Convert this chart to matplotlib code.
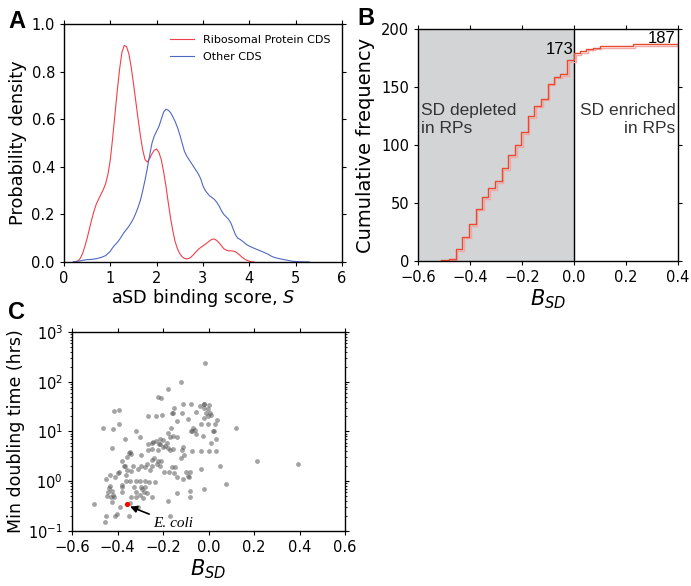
import numpy as np
import matplotlib
matplotlib.use("Agg")
import matplotlib.pyplot as plt
import matplotlib.patheffects as pe

# ---- Panel A: density curves
s_rp = [0.2, 0.3, 0.35, 0.4, 0.45, 0.5, 0.55, 0.6, 0.65, 0.7, 0.75, 0.8, 0.85, 0.9, 0.95,
        1.0, 1.05, 1.1, 1.15, 1.2, 1.25, 1.3, 1.35, 1.4, 1.45, 1.5, 1.55, 1.6, 1.65, 1.7,
        1.75, 1.8, 1.85, 1.9, 1.95, 2.0, 2.05, 2.1, 2.15, 2.2, 2.25, 2.3, 2.35, 2.4, 2.45,
        2.5, 2.55, 2.6, 2.65, 2.7, 2.75, 2.8, 2.85, 2.9, 2.95, 3.0, 3.05, 3.1, 3.15, 3.2,
        3.25, 3.3, 3.35, 3.4, 3.45, 3.5, 3.55, 3.6, 3.65, 3.7, 3.75, 3.8, 3.85, 3.9, 3.95,
        4.0, 4.05, 4.1]
d_rp = [0.0, 0.004, 0.015, 0.035, 0.065, 0.1, 0.14, 0.18, 0.215, 0.245, 0.265, 0.285, 0.305, 0.33, 0.37,
        0.43, 0.52, 0.62, 0.72, 0.81, 0.88, 0.91, 0.905, 0.875, 0.82, 0.75, 0.675, 0.6, 0.53, 0.47,
        0.43, 0.42, 0.435, 0.455, 0.47, 0.475, 0.46, 0.43, 0.38, 0.32, 0.25, 0.185, 0.13, 0.085, 0.055,
        0.035, 0.022, 0.015, 0.013, 0.015, 0.022, 0.032, 0.043, 0.053, 0.061, 0.068, 0.075, 0.082, 0.09, 0.096,
        0.096, 0.09, 0.08, 0.068, 0.056, 0.05, 0.047, 0.047, 0.046, 0.043, 0.036, 0.028, 0.019, 0.012, 0.007,
        0.003, 0.001, 0.0]
s_other = [0.2, 0.3, 0.4, 0.5, 0.6, 0.7, 0.8, 0.9, 1.0, 1.05, 1.1, 1.15, 1.2, 1.25, 1.3,
           1.35, 1.4, 1.45, 1.5, 1.55, 1.6, 1.65, 1.7, 1.75, 1.8, 1.85, 1.9, 1.95, 2.0, 2.05,
           2.1, 2.15, 2.2, 2.25, 2.3, 2.35, 2.4, 2.45, 2.5, 2.55, 2.6, 2.65, 2.7, 2.75, 2.8,
           2.85, 2.9, 2.95, 3.0, 3.05, 3.1, 3.15, 3.2, 3.25, 3.3, 3.35, 3.4, 3.45, 3.5, 3.55,
           3.6, 3.65, 3.7, 3.75, 3.8, 3.85, 3.9, 3.95, 4.0, 4.1, 4.2, 4.3, 4.4, 4.5, 4.6,
           4.7, 4.8, 4.9, 5.0, 5.1, 5.3]
d_other = [0.0, 0.003, 0.007, 0.01, 0.011, 0.014, 0.019, 0.027, 0.045, 0.06, 0.072, 0.082, 0.095, 0.11, 0.125,
           0.137, 0.15, 0.165, 0.183, 0.205, 0.23, 0.26, 0.30, 0.345, 0.395, 0.45, 0.5, 0.53, 0.55, 0.57,
           0.6, 0.63, 0.642, 0.638, 0.628, 0.61, 0.59, 0.565, 0.535, 0.5, 0.465, 0.445, 0.43, 0.415, 0.40,
           0.385, 0.37, 0.35, 0.32, 0.30, 0.288, 0.277, 0.27, 0.262, 0.25, 0.235, 0.215, 0.2, 0.19, 0.18,
           0.165, 0.14, 0.115, 0.1, 0.095, 0.088, 0.08, 0.072, 0.067, 0.058, 0.05, 0.042, 0.033, 0.022, 0.016,
           0.012, 0.008, 0.004, 0.002, 0.001, 0.0]

# ---- Panel B: cumulative frequency of B_SD
b_edges = [-0.51, -0.48, -0.455, -0.43, -0.404, -0.378, -0.353, -0.33, -0.304, -0.278,
           -0.253, -0.227, -0.204, -0.178, -0.153, -0.127, -0.101, -0.078, -0.053, -0.027,
           0.0, 0.022, 0.047, 0.073, 0.099, 0.227, 0.4]
b_cum = [1, 2, 10, 21, 32, 45, 55, 63, 69, 80, 91, 100, 111, 125, 134, 140, 153, 159, 161,
         173, 179, 181, 183, 184, 185, 187, 187]

# ---- Panel C: B_SD vs min doubling time
c_bsd = [-0.015, -0.122, -0.176, -0.224, -0.207, -0.152, -0.111, -0.078, -0.022, -0.018, 0.003, -0.037,
         -0.019, -0.004, -0.011, 0.006, -0.003, 0.01, -0.16, -0.155, -0.117, -0.204, -0.264, -0.232,
         -0.14, -0.09, -0.056, 0.037, -0.021, -0.002, -0.031, 0.028, -0.067, -0.077, -0.06, -0.055,
         -0.072, 0.022, 0.018, -0.026, 0.01, 0.035, 0.12, -0.18, -0.164, -0.171, -0.156, -0.14,
         -0.213, -0.2, -0.216, -0.465, -0.42, -0.416, -0.394, -0.394, -0.367, -0.32, -0.303, -0.423,
         -0.295, -0.268, -0.245, -0.23, -0.224, -0.212, -0.248, -0.201, -0.19, -0.184, -0.177, -0.17,
         -0.158, -0.118, -0.114, -0.109, -0.121, -0.074, -0.035, 0.0, 0.034, 0.049, 0.075, 0.211,
         0.393, -0.031, -0.022, -0.082, -0.083, -0.083, -0.085, -0.1, -0.09, -0.11, -0.14, -0.137,
         -0.149, -0.162, -0.197, -0.208, -0.222, -0.225, -0.241, -0.25, -0.27, -0.25, -0.214, -0.175,
         -0.15, -0.259, -0.279, -0.295, -0.311, -0.333, -0.339, -0.357, -0.366, -0.373, -0.38, -0.364,
         -0.392, -0.4, -0.412, -0.433, -0.451, -0.433, -0.436, -0.425, -0.418, -0.415, -0.429, -0.425,
         -0.382, -0.379, -0.379, -0.362, -0.343, -0.32, -0.301, -0.279, -0.26, -0.236, -0.326, -0.318,
         -0.297, -0.293, -0.279, -0.282, -0.27, -0.301, -0.286, -0.318, -0.309, -0.34, -0.346, -0.348,
         -0.389, -0.404, -0.412, -0.451, -0.454, -0.502, -0.18, -0.17, -0.25, -0.35, -0.345, -0.36,
         -0.34, -0.265, -0.25, -0.44, -0.445]
c_time = [243, 99, 73, 49, 46, 30, 36, 36, 36, 35, 34, 32,
          29, 28, 24, 23, 20, 21, 24, 24, 24, 21, 20, 20,
          16, 18, 25, 17, 19, 14, 14, 14, 12, 10.4, 10.6, 8.9,
          10.2, 10.1, 10, 8, 6, 7, 12, 9.2, 12, 7.9, 8, 7.9,
          7, 6.8, 5.5, 12, 11, 26, 27, 14, 7.1, 10.1, 7.9, 4.6,
          3.3, 4.3, 6.1, 6.4, 4.3, 5.6, 4.5, 4.8, 5.1, 6, 4.6, 4.3,
          4.4, 4.3, 4.8, 3.4, 2.9, 4.1, 4.1, 4.1, 4.1, 2.0, 0.88, 2.5,
          2.2, 1.8, 0.71, 1.5, 0.65, 0.49, 1.19, 1.5, 1.3, 1.1, 0.57, 1.2,
          1.9, 1.9, 1.5, 2.6, 2.5, 2.2, 2.9, 2.7, 2.2, 2.0, 2.0, 1.5,
          1.47, 1.66, 1.9, 2.0, 1.8, 2.0, 1.59, 1.66, 2.0, 2.0, 2.5, 1.34,
          1.52, 1.45, 1.24, 1.34, 1.1, 0.8, 0.73, 0.65, 0.53, 0.49, 0.49, 0.39,
          0.6, 0.75, 0.84, 1.0, 1.0, 1.0, 1.0, 1.0, 0.98, 0.97, 0.76, 0.6,
          0.78, 0.69, 0.77, 0.62, 0.57, 0.53, 0.47, 0.49, 0.3, 0.49, 0.36, 0.2,
          0.3, 0.22, 0.2, 0.2, 0.155, 0.345, 0.4, 0.2, 0.49, 3.7, 3.9, 3.1,
          3.5, 5.6, 5.9, 0.6, 0.5]
ecoli_bsd, ecoli_time = -0.357, 0.345

plt.rcParams["font.family"] = "DejaVu Sans"
plt.rcParams["xtick.direction"] = "out"
plt.rcParams["ytick.direction"] = "out"
plt.rcParams["xtick.top"] = True
plt.rcParams["ytick.right"] = True
plt.rcParams["xtick.labelsize"] = 10.5
plt.rcParams["ytick.labelsize"] = 10.5
plt.rcParams["xtick.major.size"] = 3
plt.rcParams["ytick.major.size"] = 3

fig = plt.figure(figsize=(6.91, 5.86), dpi=100)
axA = fig.add_axes([0.0926, 0.5529, 0.4023, 0.4061])
axB = fig.add_axes([0.6049, 0.5546, 0.3763, 0.3959])
axC = fig.add_axes([0.1042, 0.0939, 0.3951, 0.3396])

# A
axA.plot(s_rp, d_rp, color="#f0404a", lw=0.8, label="Ribosomal Protein CDS")
axA.plot(s_other, d_other, color="#5068c0", lw=0.8, label="Other CDS")
axA.set_xlim(0, 6)
axA.set_ylim(0, 1.0)
axA.set_xticks(range(0, 7))
axA.set_yticks([0, 0.2, 0.4, 0.6, 0.8, 1.0])
axA.set_yticklabels(["0.0", "0.2", "0.4", "0.6", "0.8", "1.0"])
axA.set_xlabel("aSD binding score, $S$", fontsize=12.7, labelpad=1)
axA.set_ylabel("Probability density", fontsize=12.8, labelpad=3)
axA.legend(loc="upper right", frameon=False, fontsize=8, handlelength=2.2,
           borderaxespad=0.6, labelspacing=0.6)

# B
axB.axvspan(-0.6, 0, color="#d3d4d6", lw=0)
axB.axvline(0, color="black", lw=1)
axB.step(b_edges, b_cum, where="post", color="#e84a30", lw=1.0,
         path_effects=[pe.SimpleLineShadow(offset=(1.2, -1.2), shadow_color="#f2a8a8", alpha=1),
                       pe.Normal()])
axB.set_xlim(-0.6, 0.4)
axB.set_ylim(0, 200)
axB.set_xticks([-0.6, -0.4, -0.2, 0.0, 0.2, 0.4])
axB.set_xticklabels(["\u22120.6", "\u22120.4", "\u22120.2", "0.0", "0.2", "0.4"])
axB.set_yticks([0, 50, 100, 150, 200])
axB.set_xlabel("$B_{SD}$", fontsize=15, labelpad=2)
axB.set_ylabel("Cumulative frequency", fontsize=14, labelpad=4)
txt = dict(family="Liberation Sans", color="#333333", fontsize=12.5)
axB.text(-0.59, 136, "SD depleted\nin RPs", ha="left", va="top", linespacing=1.25, **txt)
axB.text(0.39, 136, "SD enriched\nin RPs", ha="right", va="top", multialignment="right",
         linespacing=1.25, **txt)
axB.text(-0.003, 182, "173", ha="right", va="center", family="Liberation Sans", fontsize=12)
axB.text(0.39, 192, "187", ha="right", va="center", family="Liberation Sans", fontsize=12)

# C
axC.scatter(c_bsd, c_time, s=12, color="0.35", alpha=0.55, lw=0)
axC.scatter([ecoli_bsd], [ecoli_time], s=14, color="red", lw=0, zorder=3)
axC.annotate("E. coli", xy=(ecoli_bsd + 0.012, ecoli_time * 0.9), xytext=(-0.243, 0.14),
             fontsize=11, family="Liberation Serif", style="italic", va="center", ha="left",
             arrowprops=dict(arrowstyle="-|>", color="black", lw=1.2, mutation_scale=10,
                             shrinkA=1, shrinkB=0))
axC.set_yscale("log")
axC.set_ylim(0.1, 1000)
axC.set_xlim(-0.6, 0.6)
axC.set_xticks([-0.6, -0.4, -0.2, 0.0, 0.2, 0.4, 0.6])
axC.set_xticklabels(["\u22120.6", "\u22120.4", "\u22120.2", "0.0", "0.2", "0.4", "0.6"])
axC.tick_params(which="minor", direction="out", top=True, right=True, length=1.5)
axC.set_xlabel("$B_{SD}$", fontsize=15, labelpad=2)
axC.set_ylabel("Min doubling time (hrs)", fontsize=12.5, labelpad=2)

for ax in (axA, axB, axC):
    for sp in ax.spines.values():
        sp.set_linewidth(1.0)

lab = dict(family="Liberation Sans", fontsize=17, fontweight="bold")
fig.text(0.012, 0.952, "A", **lab)
fig.text(0.517, 0.958, "B", **lab)
fig.text(0.012, 0.455, "C", **lab)

fig.savefig("out.png", dpi=100)
